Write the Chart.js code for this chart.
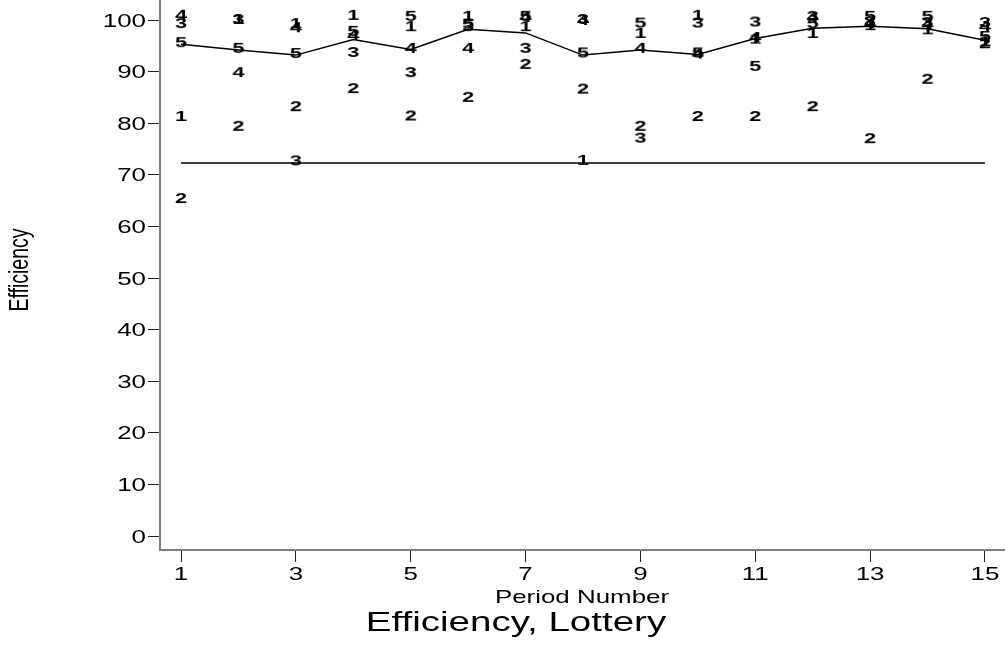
<!DOCTYPE html>
<html>
<head>
<meta charset="utf-8">
<script src="https://cdn.jsdelivr.net/npm/chart.js@4"></script>
<style>
  body { margin: 0; background: #fff; }
  .chart-container { position: relative; width: 1005px; height: 645px; }
</style>
</head>
<body>
<div class="chart-container"><canvas id="effChart"></canvas></div>
<script>
// data (one array per group, periods 1..15)
const periods = [1, 2, 3, 4, 5, 6, 7, 8, 9, 10, 11, 12, 13, 14, 15];
const group1 = [81.6, 100.4, 99.6, 101.2, 99.0, 101.0, 99.0, 73.1, 97.7, 101.2, 96.6, 97.7, 99.2, 98.4, 96.1];
const group2 = [65.7, 79.7, 83.5, 87.0, 81.7, 85.3, 91.7, 86.9, 79.7, 81.6, 81.6, 83.5, 77.3, 88.8, 95.7];
const group3 = [99.6, 100.4, 73.0, 94.0, 90.1, 99.0, 94.8, 100.4, 77.4, 99.7, 99.9, 101.0, 100.0, 99.8, 99.8];
const group4 = [101.2, 90.1, 98.8, 97.3, 94.8, 94.8, 100.8, 100.2, 94.8, 93.7, 96.9, 100.8, 99.6, 99.4, 99.0];
const group5 = [95.9, 94.8, 93.8, 98.1, 101.0, 99.5, 101.0, 93.9, 99.7, 93.9, 91.3, 99.6, 101.0, 101.0, 97.1];
const medianLine = [95.3, 94.2, 93.2, 96.2, 94.3, 98.2, 97.5, 93.2, 94.2, 93.3, 96.4, 98.4, 98.8, 98.3, 96.1];
const refLevel = 72.3;
const xTicks = [1, 3, 5, 7, 9, 11, 13, 15];
const yTicks = [0, 10, 20, 30, 40, 50, 60, 70, 80, 90, 100];

const FONT = '"Liberation Sans", Arial, Helvetica, sans-serif';
const SX = 1.4; // text in the picture is stretched sideways

function drawText(ctx, text, x, cy, size, align, weight) {
    ctx.save();
    ctx.translate(x, cy);
    ctx.scale(SX, 1);
    ctx.font = (weight || '') + ' ' + size + 'px ' + FONT;
    ctx.textAlign = align;
    ctx.textBaseline = 'alphabetic';
    ctx.fillText(text, 0, size * 0.358);
    ctx.restore();
}

// little canvases used as point styles: the group number
function digitMarker(d) {
    const c = document.createElement('canvas');
    c.width = 20; c.height = 20;
    const g = c.getContext('2d');
    g.fillStyle = '#000';
    drawText(g, String(d), 10, 10, 15.5, 'center', 'bold');
    return c;
}

const toPts = arr => arr.map((v, i) => ({ x: periods[i], y: v }));
const groups = [group1, group2, group3, group4, group5];

const datasets = groups.map((arr, i) => ({
    label: 'Group ' + (i + 1),
    data: toPts(arr),
    showLine: false,
    pointStyle: digitMarker(i + 1),
    pointRadius: 6,
    clip: false
}));
datasets.push({
    label: 'Median',
    data: toPts(medianLine),
    borderColor: '#000',
    borderWidth: 1.5,
    pointRadius: 0,
    tension: 0
});
datasets.push({
    label: 'Reference',
    data: [{ x: periods[0], y: refLevel }, { x: periods[periods.length - 1], y: refLevel }],
    borderColor: '#000',
    borderWidth: 1.5,
    pointRadius: 0
});

const textPlugin = {
    id: 'textPlugin',
    afterDraw(chart) {
        const ctx = chart.ctx;
        const xs = chart.scales.x, ys = chart.scales.y;
        ctx.save();
        ctx.fillStyle = '#000';
        xTicks.forEach(v => drawText(ctx, String(v), xs.getPixelForValue(v), 573, 18.5, 'center'));
        yTicks.forEach(v => drawText(ctx, String(v), 146, ys.getPixelForValue(v), 18.5, 'right'));
        drawText(ctx, 'Period Number', 582, 596, 18.5, 'center');
        drawText(ctx, 'Efficiency, Lottery', 516, 621, 27.5, 'center');
        // rotated y title
        ctx.translate(18, 270);
        ctx.rotate(-Math.PI / 2);
        ctx.scale(1, SX);
        ctx.font = '19.5px ' + FONT;
        ctx.textAlign = 'center';
        ctx.textBaseline = 'alphabetic';
        ctx.fillText('Efficiency', 0, 19.5 * 0.358);
        ctx.restore();
    }
};

const ctx = document.getElementById('effChart').getContext('2d');
const effChart = new Chart(ctx, {
    type: 'line',
    data: { datasets: datasets },
    options: {
        responsive: true,
        maintainAspectRatio: false,
        animation: false,
        layout: { padding: 0, autoPadding: false },
        scales: {
            x: {
                type: 'linear',
                min: 0.634,
                max: 15.35,
                afterBuildTicks: s => { s.ticks = xTicks.map(v => ({ value: v })); },
                afterFit: s => { s.height = 95; },
                ticks: { display: false },
                grid: { display: true, drawOnChartArea: false, drawTicks: true, tickLength: 12, color: '#222', lineWidth: 1 },
                border: { display: true, color: '#808080', width: 2 }
            },
            y: {
                type: 'linear',
                min: -2.71,
                max: 103.88,
                afterBuildTicks: s => { s.ticks = yTicks.map(v => ({ value: v })); },
                afterFit: s => { s.width = 160; },
                ticks: { display: false },
                grid: { display: true, drawOnChartArea: false, drawTicks: true, tickLength: 12, color: '#222', lineWidth: 1 },
                border: { display: true, color: '#808080', width: 2 }
            }
        },
        plugins: {
            legend: { display: false },
            tooltip: { enabled: false }
        }
    },
    plugins: [textPlugin]
});
</script>
</body>
</html>
